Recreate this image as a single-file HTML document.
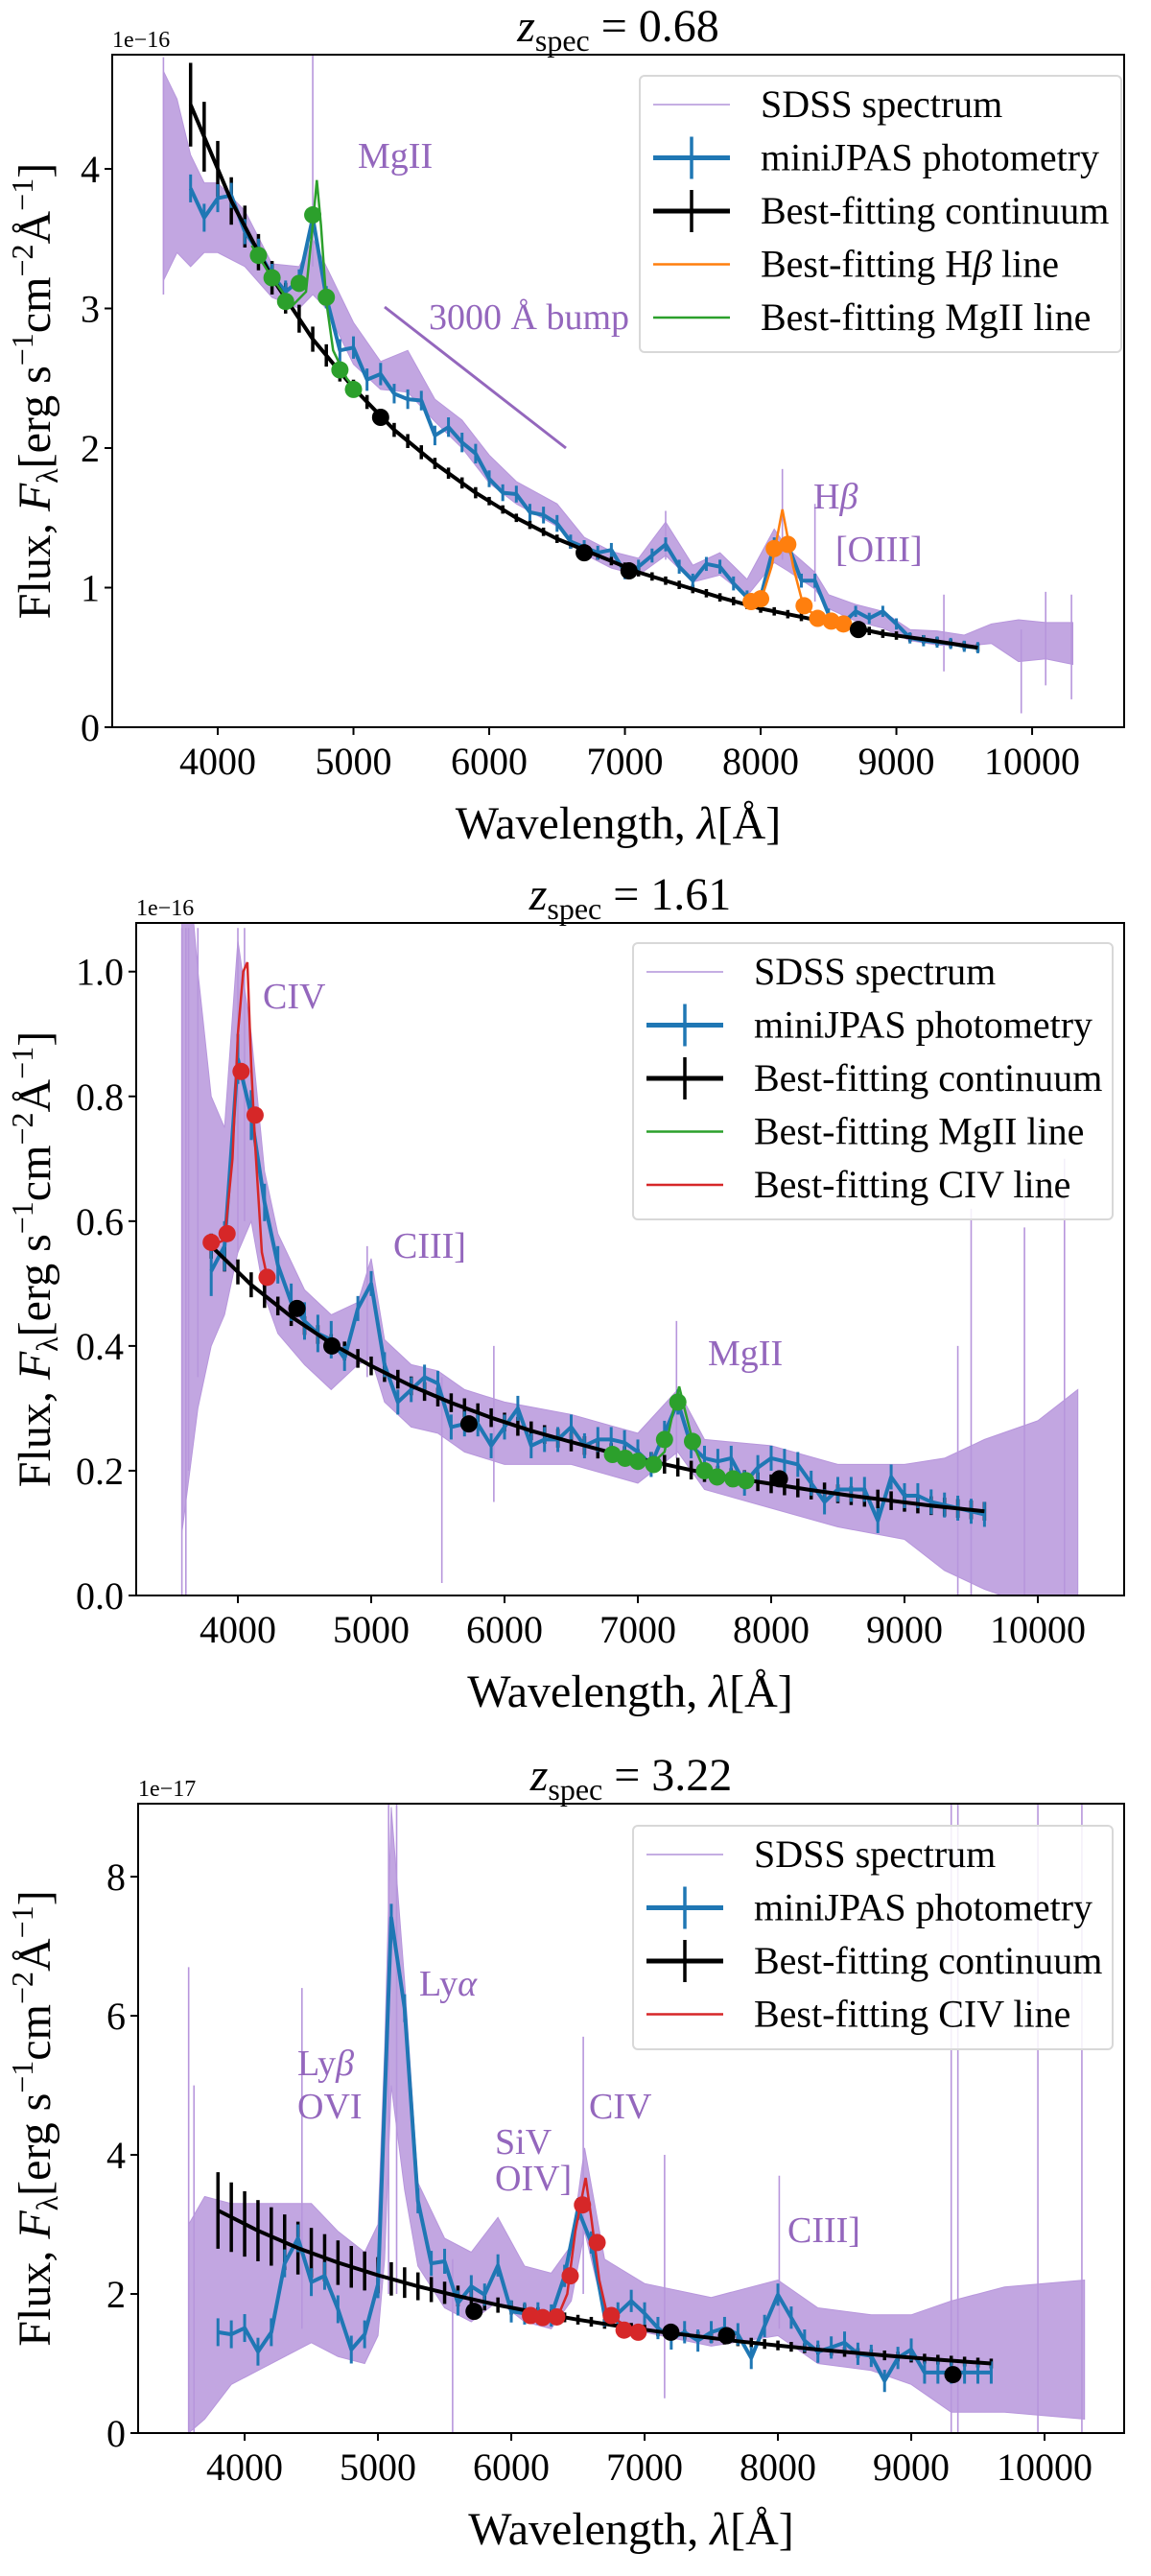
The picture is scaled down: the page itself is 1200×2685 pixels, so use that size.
<!DOCTYPE html>
<html><head><meta charset="utf-8"><title>Spectra</title>
<style>html,body{margin:0;padding:0;background:#fff}svg,svg text{font-family:"Liberation Serif","DejaVu Serif",serif}</style>
</head><body>
<svg id="fig" xmlns="http://www.w3.org/2000/svg" width="1200" height="2680" viewBox="0 0 1200 2680" font-family="Liberation Serif, DejaVu Serif, serif"></svg>
<script>
// ---------- shared categories ----------
const photWl = [3800,3900,4000,4100,4200,4300,4400,4500,4600,4700,4800,4900,5000,5100,5200,5300,5400,5500,5600,5700,5800,5900,6000,6100,6200,6300,6400,6500,6600,6700,6800,6900,7000,7100,7200,7300,7400,7500,7600,7700,7800,7900,8000,8100,8200,8300,8400,8500,8600,8700,8800,8900,9000,9100,9200,9300,9400,9500,9600];
const xTicks = [4000,5000,6000,7000,8000,9000,10000];
const contWl = [3800,4100,4400,4700,5000,5300,5600,5900,6200,6500,6800,7100,7400,7700,8000,8300,8600,8900,9200,9600];

// ---------- panel 1 (z=0.68) ----------
const p1SpecWl  = [3600,3700,3800,3900,4000,4200,4400,4600,4700,4800,5000,5200,5400,5600,5800,6000,6200,6500,6700,6900,7100,7300,7500,7700,7900,8100,8200,8400,8500,8700,8900,9100,9300,9500,9700,9900,10100,10300];
const p1SpecMid = [3.95,3.95,3.7,3.65,3.65,3.5,3.2,3.15,3.3,3.15,2.75,2.52,2.55,2.27,2.1,1.85,1.68,1.52,1.3,1.2,1.15,1.35,1.1,1.17,1.0,1.3,1.2,1.05,0.9,0.82,0.77,0.66,0.64,0.62,0.67,0.62,0.62,0.6];
const p1SpecAmp = [0.75,0.55,0.4,0.25,0.25,0.2,0.12,0.15,0.2,0.15,0.15,0.1,0.15,0.08,0.1,0.1,0.08,0.08,0.06,0.06,0.06,0.12,0.06,0.08,0.06,0.12,0.08,0.06,0.05,0.06,0.06,0.04,0.05,0.04,0.07,0.15,0.13,0.15];
const p1SpikeWl = [3600,4700,7300,8160,8400,9350,9920,10100,10290];
const p1SpikeLo = [3.1,3.3,1.2,1.2,0.9,0.4,0.1,0.3,0.2];
const p1SpikeHi = [4.8,4.82,1.55,1.85,1.6,0.95,0.7,0.97,0.95];
const p1Phot = [3.86,3.65,3.79,3.81,3.55,3.41,3.24,3.12,3.20,3.65,3.08,2.70,2.72,2.49,2.53,2.39,2.35,2.34,2.09,2.15,2.04,1.96,1.78,1.68,1.67,1.54,1.52,1.46,1.33,1.29,1.25,1.27,1.11,1.15,1.23,1.31,1.15,1.05,1.17,1.15,1.03,0.93,0.93,1.31,1.31,1.05,1.05,0.81,0.74,0.83,0.78,0.83,0.74,0.64,0.62,0.61,0.60,0.58,0.57];
const p1PhotErr = [0.1,0.1,0.1,0.09,0.09,0.09,0.08,0.08,0.08,0.08,0.08,0.08,0.08,0.08,0.08,0.07,0.07,0.07,0.07,0.07,0.07,0.07,0.06,0.06,0.06,0.06,0.06,0.06,0.05,0.05,0.05,0.05,0.05,0.05,0.05,0.05,0.05,0.05,0.05,0.05,0.05,0.05,0.05,0.05,0.05,0.05,0.05,0.04,0.04,0.04,0.04,0.04,0.04,0.04,0.04,0.04,0.04,0.04,0.04];
const p1Cont = [4.46,3.77,3.22,2.78,2.43,2.13,1.89,1.68,1.50,1.35,1.23,1.11,1.02,0.93,0.85,0.79,0.73,0.67,0.63,0.57];
const p1ContErr = [0.3,0.25,0.2,0.17,0.15,0.13,0.12,0.11,0.1,0.09,0.08,0.07,0.06,0.05,0.05,0.05,0.05,0.05,0.04,0.04,0.04,0.04,0.03,0.03,0.03,0.03,0.03,0.03,0.03,0.03,0.03,0.03,0.03,0.03,0.03,0.03,0.03,0.03,0.03,0.03,0.03,0.03,0.03,0.03,0.03,0.03,0.03,0.03,0.03,0.03,0.03,0.03,0.03,0.03,0.03,0.03,0.03,0.03,0.03];
const p1DotWl = [5200,6700,7030,8720];
const p1DotF  = [2.22,1.25,1.12,0.70];
const p1GreenDotWl = [4300,4400,4500,4600,4700,4800,4900,5000];
const p1GreenDotF  = [3.38,3.22,3.05,3.18,3.67,3.08,2.56,2.42];
const p1GreenWl = [4250,4400,4550,4650,4700,4730,4760,4800,4850,4950,5050];
const p1GreenF  = [3.45,3.22,3.02,3.12,3.6,3.92,3.6,3.05,2.7,2.5,2.38];
const p1OrangeDotWl = [7930,8000,8100,8200,8320,8420,8520,8610];
const p1OrangeDotF  = [0.90,0.92,1.28,1.31,0.87,0.78,0.76,0.74];
const p1OrangeWl = [7900,8000,8080,8160,8240,8320,8500,8650];
const p1OrangeF  = [0.9,0.9,1.15,1.56,1.15,0.85,0.76,0.72];
const p1YTicks = [0,1,2,3,4];
const p1YTickLabels = ["0","1","2","3","4"];

// ---------- panel 2 (z=1.61) ----------
const p2SpecWl  = [3580,3700,3800,3900,4000,4100,4200,4300,4500,4700,4900,5000,5100,5300,5500,5700,6000,6500,7000,7300,7500,8000,8500,9000,9300,9600,10000,10300];
const p2SpecMid = [0.7,0.65,0.6,0.6,0.8,0.75,0.58,0.5,0.43,0.39,0.42,0.46,0.36,0.32,0.31,0.28,0.26,0.25,0.22,0.28,0.21,0.19,0.16,0.15,0.13,0.13,0.13,0.13];
const p2SpecAmp = [0.6,0.35,0.2,0.15,0.25,0.15,0.1,0.08,0.06,0.06,0.05,0.08,0.05,0.05,0.05,0.05,0.05,0.04,0.04,0.05,0.04,0.05,0.05,0.06,0.09,0.12,0.15,0.2];
const p2SpikeWl = [3580,3610,3630,3700,4000,4050,4970,5530,5920,7290,9400,9500,9900,10200];
const p2SpikeLo = [0,0,0.2,0.35,0.55,0.6,0.35,0.02,0.15,0.22,0,0,0,0];
const p2SpikeHi = [1.07,1.07,1.07,1.07,1.07,1.07,0.56,0.35,0.4,0.44,0.4,0.62,0.59,0.7];
const p2Phot = [.52,.56,.86,.77,.63,.53,.47,.44,.42,.41,.38,.46,.50,.37,.31,.33,.35,.34,.27,.275,.275,.24,.27,.30,.24,.25,.25,.27,.24,.25,.25,.245,.23,.21,.26,.31,.24,.22,.215,.22,.18,.205,.22,.215,.21,.18,.15,.17,.17,.17,.12,.19,.16,.16,.15,.145,.14,.135,.13];
const p2PhotErr = [.04,.04,.04,.04,.03,.03,.03,.03,.03,.03,.02,.02,.02,.02,.02,.02,.02,.02,.02,.02,.02,.02,.02,.02,.02,.02,.02,.02,.02,.02,.02,.02,.02,.02,.02,.02,.02,.02,.02,.02,.02,.02,.02,.02,.02,.02,.02,.02,.02,.02,.02,.02,.02,.02,.02,.02,.02,.02,.02];
const p2Cont = [0.56,0.498,0.447,0.404,0.368,0.336,0.309,0.285,0.264,0.246,0.229,0.215,0.201,0.189,0.179,0.169,0.160,0.152,0.144,0.135];
const p2ContErr = [.02,.02,.02,.02,.02,.015,.015,.015,.015,.015,.015,.015,.015,.015,.015,.015,.015,.015,.015,.015,.015,.015,.015,.015,.015,.015,.015,.015,.015,.015,.015,.015,.015,.015,.015,.015,.015,.015,.015,.015,.015,.015,.015,.015,.015,.015,.015,.015,.015,.015,.015,.015,.015,.015,.015,.015,.015,.015,.015];
const p2DotWl = [4443,4705,5733,8062];
const p2DotF  = [0.46,0.40,0.275,0.187];
const p2RedDotWl = [3800,3919,4024,4129,4219];
const p2RedDotF  = [0.566,0.58,0.84,0.77,0.51];
const p2RedWl = [3800,3900,3960,4000,4040,4071,4100,4130,4180,4220];
const p2RedF  = [0.56,0.57,0.7,0.9,1.0,1.015,0.85,0.72,0.55,0.51];
const p2GreenDotWl = [6810,6905,7000,7119,7200,7300,7410,7500,7595,7714,7810];
const p2GreenDotF  = [0.226,0.22,0.215,0.21,0.25,0.31,0.247,0.20,0.19,0.187,0.184];
const p2GreenWl = [6800,7100,7200,7270,7310,7350,7420,7500,7800];
const p2GreenF  = [0.226,0.21,0.23,0.3,0.335,0.3,0.24,0.2,0.184];
const p2YTicks = [0,0.2,0.4,0.6,0.8,1.0];
const p2YTickLabels = ["0.0","0.2","0.4","0.6","0.8","1.0"];

// ---------- panel 3 (z=3.22) ----------
const p3SpecWl  = [3580,3700,3900,4100,4300,4500,4700,4900,5000,5050,5100,5200,5300,5500,5700,5900,6100,6300,6450,6550,6700,7000,7500,8000,8300,8700,9000,9300,9700,10300];
const p3SpecMid = [1.5,1.8,2.0,2.1,2.2,2.3,2.0,1.8,2.2,4.0,7.0,5.0,3.0,2.3,2.1,2.5,2.0,1.9,2.3,3.5,2.1,1.8,1.6,1.8,1.4,1.3,1.2,1.1,1.2,1.2];
const p3SpecAmp = [1.5,1.6,1.3,1.2,1.1,1.0,0.9,0.8,0.8,1.5,2.0,1.5,0.6,0.5,0.5,0.6,0.4,0.4,0.4,0.6,0.4,0.35,0.35,0.4,0.4,0.4,0.5,0.8,0.9,1.0];
const p3SpikeWl = [3580,3620,4430,5080,5140,5560,6540,7150,8010,9300,9350,9950,10280];
const p3SpikeLo = [0,0,1.5,2,2,0,2,0.5,1.5,0,0,0,0];
const p3SpikeHi = [6.7,5.0,6.4,9.05,9.05,2.5,5.7,4.0,3.7,9.05,9.05,9.05,9.05];
const p3Phot = [1.45,1.42,1.51,1.17,1.45,2.44,2.80,2.17,2.26,1.78,1.20,1.42,2.14,7.41,6.11,3.34,2.44,2.47,1.87,2.11,1.99,2.41,1.75,1.72,1.72,1.69,2.26,3.22,2.74,1.69,1.72,1.90,1.72,1.51,1.36,1.45,1.33,1.45,1.51,1.42,1.08,1.54,1.99,1.66,1.33,1.17,1.23,1.30,1.14,1.11,0.75,1.08,1.20,0.87,0.87,0.87,0.87,0.87,0.87];
const p3PhotErr = [.2,.2,.2,.2,.2,.2,.2,.2,.2,.2,.2,.2,.2,.2,.2,.18,.18,.18,.18,.16,.16,.16,.16,.16,.16,.16,.16,.16,.16,.16,.16,.16,.16,.16,.16,.16,.16,.16,.16,.16,.16,.16,.16,.16,.16,.16,.16,.16,.16,.16,.16,.16,.16,.16,.16,.16,.16,.16,.16];
const p3Cont = [3.2,2.91,2.66,2.45,2.27,2.11,1.97,1.84,1.73,1.63,1.54,1.46,1.39,1.32,1.26,1.20,1.15,1.10,1.055,1.0];
const p3ContErr = [.55,.5,.47,.44,.42,.4,.38,.36,.34,.32,.3,.28,.26,.24,.22,.2,.18,.16,.15,.14,.12,.11,.1,.09,.08,.08,.07,.07,.07,.07,.07,.07,.07,.07,.07,.07,.07,.07,.07,.07,.07,.07,.07,.07,.07,.07,.07,.07,.07,.07,.07,.07,.07,.07,.07,.07,.07,.07,.07];
const p3DotWl = [5721,7197,7615,9313];
const p3DotF  = [1.75,1.45,1.40,0.84];
const p3RedDotWl = [6144,6236,6341,6442,6534,6644,6750,6846,6952];
const p3RedDotF  = [1.69,1.66,1.67,2.26,3.28,2.74,1.69,1.48,1.45];
const p3RedWl = [6140,6350,6420,6480,6558,6600,6660,6720,6950];
const p3RedF  = [1.69,1.68,2.0,2.9,3.67,3.1,2.2,1.7,1.45];
const p3YTicks = [0,2,4,6,8];
const p3YTickLabels = ["0","2","4","6","8"];

// ---------- drawing ----------
const NS = "http://www.w3.org/2000/svg";
const svg = document.getElementById('fig');
const FONT = '"Liberation Serif", "DejaVu Serif", serif';
const C = {spec:'#b796dc', blue:'#1f77b4', green:'#2ca02c', orange:'#ff7f0e', red:'#d62728', ann:'#9467bd'};
function mk(tag, attrs, parent){
  const e = document.createElementNS(NS, tag);
  for (const k in attrs) e.setAttribute(k, attrs[k]);
  if (tag==='text') e.setAttribute('font-family', FONT);
  (parent||svg).appendChild(e);
  return e;
}
function interp(xs, ys, x){
  if (x<=xs[0]) return ys[0];
  for (let i=1;i<xs.length;i++) if (x<=xs[i]) { const t=(x-xs[i-1])/(xs[i]-xs[i-1]); return ys[i-1]+t*(ys[i]-ys[i-1]); }
  return ys[ys.length-1];
}
function sup(t, txt, dy, size){ const s=mk('tspan',{dy:dy,'font-size':size},t); s.textContent=txt; return s; }

function panel(cfg){
  const g = mk('g',{});
  
  
  const X = wl => cfg.x0 + (wl-cfg.wlL)/(cfg.wlR-cfg.wlL)*(cfg.x1-cfg.x0);
  const Y = v => cfg.yb - v/cfg.vTop*(cfg.yb-cfg.yt);
  const cid = 'clip-'+cfg.name;
  const cp = mk('clipPath',{id:cid},g);
  mk('rect',{x:cfg.x0,y:cfg.yt,width:cfg.x1-cfg.x0,height:cfg.yb-cfg.yt},cp);
  const plot = mk('g',{'clip-path':'url(#'+cid+')'},g);

  let up=[], lo=[];
  cfg.specWl.forEach((w,i)=>{ up.push(X(w).toFixed(1)+','+Y(cfg.specMid[i]+cfg.specAmp[i]).toFixed(1)); lo.unshift(X(w).toFixed(1)+','+Y(cfg.specMid[i]-cfg.specAmp[i]).toFixed(1)); });
  const band = mk('polygon',{points:up.concat(lo).join(' '),fill:C.spec,'fill-opacity':0.85,stroke:C.spec,'stroke-width':1},plot);
  
  
  cfg.spikeWl.forEach((w,i)=>{
    const s = mk('line',{x1:X(w),x2:X(w),y1:Y(cfg.spikeLo[i]),y2:Y(cfg.spikeHi[i]),stroke:C.spec,'stroke-width':1.6},plot);
    
    
  });

  photWl.forEach((w,i)=>{
    const c = interp(contWl, cfg.cont, w), e = cfg.contErr[i];
    const b = mk('line',{x1:X(w),x2:X(w),y1:Y(c-e),y2:Y(c+e),stroke:'#000','stroke-width':3.5},plot);
    
    
  });
  photWl.forEach((w,i)=>{
    const b = mk('line',{x1:X(w),x2:X(w),y1:Y(cfg.phot[i]-cfg.photErr[i]),y2:Y(cfg.phot[i]+cfg.photErr[i]),stroke:C.blue,'stroke-width':3},plot);
    
    
  });
  const pl = mk('polyline',{points:photWl.map((w,i)=>X(w).toFixed(1)+','+Y(cfg.phot[i]).toFixed(1)).join(' '),fill:'none',stroke:C.blue,'stroke-width':4,'stroke-linejoin':'round'},plot);
  
  
  const cl = mk('polyline',{points:contWl.map((w,i)=>X(w).toFixed(1)+','+Y(cfg.cont[i]).toFixed(1)).join(' '),fill:'none',stroke:'#000','stroke-width':4,'stroke-linejoin':'round'},plot);
  
  

  (cfg.fits||[]).forEach(f=>{
    const fl = mk('polyline',{points:f.wl.map((w,i)=>X(w).toFixed(1)+','+Y(f.f[i]).toFixed(1)).join(' '),fill:'none',stroke:f.color,'stroke-width':2.5},plot);
    
    
    f.dw.forEach((w,i)=>{
      const d = mk('circle',{cx:X(w),cy:Y(f.df[i]),r:9,fill:f.color},plot);
      
      
    });
  });
  cfg.dotWl.forEach((w,i)=>{
    const d = mk('circle',{cx:X(w),cy:Y(cfg.dotF[i]),r:9,fill:'#000'},plot);
    
    
  });

  (cfg.anns||[]).forEach(a=>{
    const t = mk('text',{x:a.x,y:a.y,fill:C.ann,'font-size':38},g);
    
    
    if (a.parts){ a.parts.forEach(p=>{ const s=mk('tspan',p.i?{'font-style':'italic'}:{},t); s.textContent=p.t; }); }
    else t.textContent = a.t;
  });
  if (cfg.bump){
    const l = mk('line',{x1:cfg.bump[0],y1:cfg.bump[1],x2:cfg.bump[2],y2:cfg.bump[3],stroke:C.ann,'stroke-width':3},g);
    
    
  }

  const fr = mk('rect',{x:cfg.x0,y:cfg.yt,width:cfg.x1-cfg.x0,height:cfg.yb-cfg.yt,fill:'none',stroke:'#000','stroke-width':2},g);
  
  
  xTicks.forEach(w=>{
    mk('line',{x1:X(w),x2:X(w),y1:cfg.yb,y2:cfg.yb+8,stroke:'#000','stroke-width':2},g);
    const t = mk('text',{x:X(w),y:cfg.yb+49,'text-anchor':'middle','font-size':40},g);
    
    
    t.textContent = w;
  });
  cfg.yTicks.forEach((v,i)=>{
    mk('line',{x1:cfg.x0-8,x2:cfg.x0,y1:Y(v),y2:Y(v),stroke:'#000','stroke-width':2},g);
    const t = mk('text',{x:cfg.x0-13,y:Y(v)+14,'text-anchor':'end','font-size':40},g);
    
    
    t.textContent = cfg.yTickLabels[i];
  });
  const off = mk('text',{x:cfg.x0,y:cfg.yt-8,'font-size':24},g);
  
  
  off.textContent = cfg.offset;

  const tt = mk('text',{x:(cfg.x0+cfg.x1)/2,y:cfg.yt-14,'text-anchor':'middle','font-size':48},g);
  
  
  const z = mk('tspan',{'font-style':'italic'},tt); z.textContent='z';
  sup(tt,'spec',10,32);
  const eq = mk('tspan',{dy:-10},tt); eq.textContent=' = '+cfg.z;

  const xl = mk('text',{x:(cfg.x0+cfg.x1)/2,y:cfg.yb+116,'text-anchor':'middle','font-size':48},g);
  
  
  const a1=mk('tspan',{},xl); a1.textContent='Wavelength, ';
  const a2=mk('tspan',{'font-style':'italic'},xl); a2.textContent='λ';
  const a3=mk('tspan',{},xl); a3.textContent='[Å]';

  const cy=(cfg.yt+cfg.yb)/2;
  const yl = mk('text',{x:0,y:0,'text-anchor':'middle','font-size':48,transform:'translate(52,'+cy+') rotate(-90)'},g);
  
  
  const b1=mk('tspan',{},yl); b1.textContent='Flux, ';
  const b2=mk('tspan',{'font-style':'italic'},yl); b2.textContent='F';
  sup(yl,'λ',8,32);
  const b3=mk('tspan',{dy:-8},yl); b3.textContent='[erg s';
  sup(yl,'−1',-18,32);
  const b4=mk('tspan',{dy:18},yl); b4.textContent='cm';
  sup(yl,'−2',-18,32);
  const b5=mk('tspan',{dy:18},yl); b5.textContent='Å';
  sup(yl,'−1',-18,32);
  const b6=mk('tspan',{dy:18},yl); b6.textContent=']';

  const lg = mk('g',{},g);
  
  
  mk('rect',{x:cfg.lg.x,y:cfg.lg.y,width:cfg.lg.w,height:cfg.lg.h,rx:5,fill:'#fff','fill-opacity':0.85,stroke:'#d8d8d8','stroke-width':2},lg);
  cfg.lg.items.forEach((it,i)=>{
    const ry = cfg.lg.y + 30 + i*55.5;
    const e = mk('g',{},lg);
    
    
    const hx = cfg.lg.x+14, hw = 80;
    mk('line',{x1:hx,x2:hx+hw,y1:ry,y2:ry,stroke:it.c,'stroke-width':it.w},e);
    if (it.bar) mk('line',{x1:hx+hw/2,x2:hx+hw/2,y1:ry-22,y2:ry+22,stroke:it.c,'stroke-width':3.5},e);
    const t = mk('text',{x:cfg.lg.x+126,y:ry+13,'font-size':40},e);
    if (it.parts) it.parts.forEach(p=>{const s=mk('tspan',p.i?{'font-style':'italic'}:{},t); s.textContent=p.t;});
    else t.textContent = it.t;
  });
}

const L_SDSS={t:'SDSS spectrum',c:'#c5aee3',w:2};
const L_PH={t:'miniJPAS photometry',c:C.blue,w:5,bar:true};
const L_CO={t:'Best-fitting continuum',c:'#000',w:5,bar:true};
const L_HB={parts:[{t:'Best-fitting H'},{t:'β',i:true},{t:' line'}],c:C.orange,w:2.5};
const L_MG={t:'Best-fitting MgII line',c:C.green,w:2.5};
const L_CIV={t:'Best-fitting CIV line',c:C.red,w:2.5};

panel({name:'panel-z068',x0:117,x1:1172,wlL:3222.6,wlR:10678,yb:758,yt:57,vTop:4.818,z:'0.68',offset:'1e−16',
  specWl:p1SpecWl,specMid:p1SpecMid,specAmp:p1SpecAmp,spikeWl:p1SpikeWl,spikeLo:p1SpikeLo,spikeHi:p1SpikeHi,
  phot:p1Phot,photErr:p1PhotErr,cont:p1Cont,contErr:p1ContErr,dotWl:p1DotWl,dotF:p1DotF,
  fits:[{name:'mgii',color:C.green,wl:p1GreenWl,f:p1GreenF,dw:p1GreenDotWl,df:p1GreenDotF},
        {name:'hbeta',color:C.orange,wl:p1OrangeWl,f:p1OrangeF,dw:p1OrangeDotWl,df:p1OrangeDotF}],
  yTicks:p1YTicks,yTickLabels:p1YTickLabels,
  anns:[{id:'mgii',x:373,y:175,t:'MgII'},{id:'bump',x:447,y:343,t:'3000 Å bump'},{id:'hbeta',x:848,y:530,parts:[{t:'H'},{t:'β',i:true}]},{id:'oiii',x:871,y:585,t:'[OIII]'}],
  bump:[401,320,590,467],
  lg:{x:667,y:79,w:502,h:288,items:[L_SDSS,L_PH,L_CO,L_HB,L_MG]}});

panel({name:'panel-z161',x0:142,x1:1172,wlL:3237.4,wlR:10647.5,yb:1663,yt:962,vTop:1.078,z:'1.61',offset:'1e−16',
  specWl:p2SpecWl,specMid:p2SpecMid,specAmp:p2SpecAmp,spikeWl:p2SpikeWl,spikeLo:p2SpikeLo,spikeHi:p2SpikeHi,
  phot:p2Phot,photErr:p2PhotErr,cont:p2Cont,contErr:p2ContErr,dotWl:p2DotWl,dotF:p2DotF,
  fits:[{name:'civ',color:C.red,wl:p2RedWl,f:p2RedF,dw:p2RedDotWl,df:p2RedDotF},
        {name:'mgii',color:C.green,wl:p2GreenWl,f:p2GreenF,dw:p2GreenDotWl,df:p2GreenDotF}],
  yTicks:p2YTicks,yTickLabels:p2YTickLabels,
  anns:[{id:'civ',x:274,y:1051,t:'CIV'},{id:'ciii',x:410,y:1311,t:'CIII]'},{id:'mgii',x:738,y:1423,t:'MgII'}],
  lg:{x:660,y:983,w:500,h:288,items:[L_SDSS,L_PH,L_CO,L_MG,L_CIV]}});

panel({name:'panel-z322',x0:144,x1:1172,wlL:3201,wlR:10597,yb:2536,yt:1880,vTop:9.05,z:'3.22',offset:'1e−17',
  specWl:p3SpecWl,specMid:p3SpecMid,specAmp:p3SpecAmp,spikeWl:p3SpikeWl,spikeLo:p3SpikeLo,spikeHi:p3SpikeHi,
  phot:p3Phot,photErr:p3PhotErr,cont:p3Cont,contErr:p3ContErr,dotWl:p3DotWl,dotF:p3DotF,
  fits:[{name:'civ',color:C.red,wl:p3RedWl,f:p3RedF,dw:p3RedDotWl,df:p3RedDotF}],
  yTicks:p3YTicks,yTickLabels:p3YTickLabels,
  anns:[{id:'lyb',x:310,y:2163,parts:[{t:'Ly'},{t:'β',i:true}]},{id:'ovi',x:310,y:2208,t:'OVI'},{id:'lya',x:437,y:2080,parts:[{t:'Ly'},{t:'α',i:true}]},
        {id:'siv',x:516,y:2245,t:'SiV'},{id:'oiv',x:516,y:2283,t:'OIV]'},{id:'civ',x:614,y:2208,t:'CIV'},{id:'ciii',x:821,y:2337,t:'CIII]'}],
  lg:{x:660,y:1903,w:500,h:233,items:[L_SDSS,L_PH,L_CO,L_CIV]}});
</script>
</body></html>
